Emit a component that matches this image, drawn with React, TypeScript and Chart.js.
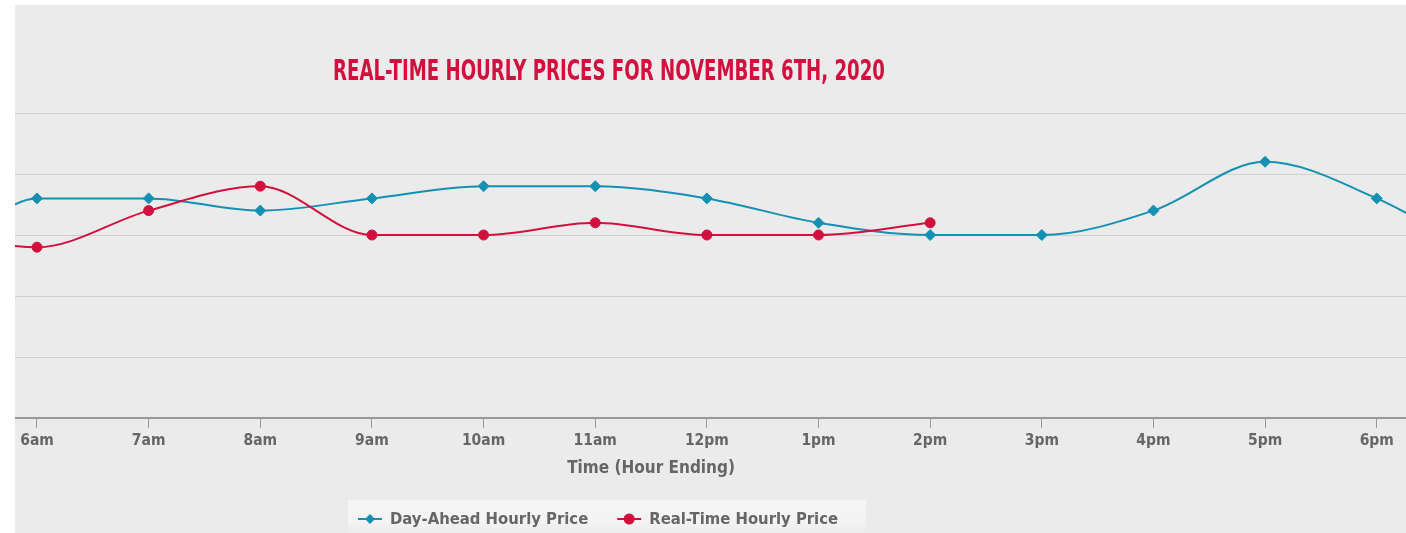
import { useEffect, useRef } from 'react';
import { Chart, registerables } from 'chart.js';

Chart.register(...registerables);

// ---- data ----
const dayAheadHours = [5, 6, 7, 8, 9, 10, 11, 12, 13, 14, 15, 16, 17, 18, 19];
const dayAheadPrices = [22, 36, 36, 34, 36, 38, 38, 36, 32, 30, 30, 34, 42, 36, 26];
const realTimeHours = [5, 6, 7, 8, 9, 10, 11, 12, 13, 14];
const realTimePrices = [31, 28, 34, 38, 30, 30, 32, 30, 30, 32];
const tickHours = [6, 7, 8, 9, 10, 11, 12, 13, 14, 15, 16, 17, 18];
const tickLabels = ['6am', '7am', '8am', '9am', '10am', '11am', '12pm', '1pm', '2pm', '3pm', '4pm', '5pm', '6pm'];
const seriesNames = ['Day-Ahead Hourly Price', 'Real-Time Hourly Price'];
const chartTitle = 'REAL-TIME HOURLY PRICES FOR NOVEMBER 6TH, 2020';
const xAxisTitle = 'Time (Hour Ending)';

const BLUE = '#1490b2';
const RED = '#d2103e';
const TEXT = '#666666';
const COND = '"DejaVu Sans Condensed", "DejaVu Sans", sans-serif';

const overlayPlugin = {
  id: 'overlay',
  afterDraw(chart: any) {
    const { ctx } = chart;
    const xs = chart.scales.x;

    // Title
    ctx.save();
    ctx.font = 'bold 28px "Liberation Sans Narrow", "DejaVu Sans Condensed", sans-serif';
    const tw = ctx.measureText(chartTitle).width;
    ctx.translate(594, 75);
    ctx.scale(552 / tw, 1);
    ctx.fillStyle = RED;
    ctx.textAlign = 'center';
    ctx.textBaseline = 'alphabetic';
    ctx.fillText(chartTitle, 0, 0);
    ctx.restore();

    // X axis title
    ctx.save();
    ctx.font = 'bold 17px ' + COND;
    ctx.fillStyle = TEXT;
    ctx.textAlign = 'center';
    ctx.textBaseline = 'alphabetic';
    ctx.fillText(xAxisTitle, xs.getPixelForValue(11.5), 468);
    ctx.restore();

    // Legend box
    ctx.save();
    const bx = 333, by = 495, bw = 518, bh = 40;
    const g = ctx.createLinearGradient(0, by, 0, by + bh);
    g.addColorStop(0, '#f6f6f6');
    g.addColorStop(0.55, '#f3f3f3');
    g.addColorStop(1, '#e6e6e6');
    ctx.fillStyle = g;
    ctx.fillRect(bx, by, bw, bh);
    ctx.font = 'bold 16.5px ' + COND;
    ctx.textBaseline = 'middle';
    ctx.textAlign = 'left';
    const ly = 514;
    let x = 343;
    chart.data.datasets.forEach((ds: any, i: number) => {
      const color = ds.borderColor;
      ctx.strokeStyle = color;
      ctx.fillStyle = color;
      ctx.lineWidth = 2;
      ctx.beginPath();
      ctx.moveTo(x, ly);
      ctx.lineTo(x + 24, ly);
      ctx.stroke();
      const cx = x + 12;
      ctx.beginPath();
      if (i === 0) {
        ctx.moveTo(cx, ly - 5);
        ctx.lineTo(cx + 5, ly);
        ctx.lineTo(cx, ly + 5);
        ctx.lineTo(cx - 5, ly);
        ctx.closePath();
      } else {
        ctx.arc(cx, ly, 5.5, 0, Math.PI * 2);
      }
      ctx.fill();
      ctx.fillStyle = TEXT;
      ctx.fillText(ds.label, x + 32, ly + 1);
      x = x + 32 + ctx.measureText(ds.label).width + 29;
    });
    ctx.restore();
  },
};

export default function App() {
  const ref = useRef<HTMLCanvasElement>(null);
  useEffect(() => {
    if (!ref.current) return;
    const chart = new Chart(ref.current, {
      type: 'line',
      data: {
        datasets: [
          {
            label: seriesNames[0],
            data: dayAheadHours.map((h, i) => ({ x: h, y: dayAheadPrices[i] })),
            borderColor: BLUE,
            backgroundColor: BLUE,
            borderWidth: 2,
            pointStyle: 'rectRot',
            pointRadius: 5.5,
            pointBorderWidth: 1,
            cubicInterpolationMode: 'monotone',
            order: 1,
          },
          {
            label: seriesNames[1],
            data: realTimeHours.map((h, i) => ({ x: h, y: realTimePrices[i] })),
            borderColor: RED,
            backgroundColor: RED,
            borderWidth: 2,
            pointStyle: 'circle',
            pointRadius: 5,
            pointBorderWidth: 1,
            cubicInterpolationMode: 'monotone',
            order: 0,
          },
        ],
      },
      options: {
        responsive: false,
        animation: false,
        devicePixelRatio: 1,
        layout: { autoPadding: false, padding: { top: 108, left: 0, right: 0, bottom: 0 } },
        plugins: {
          legend: { display: false },
          title: { display: false },
          tooltip: { enabled: false },
        },
        scales: {
          x: {
            type: 'linear',
            min: 5.803,
            max: 18.262,
            afterBuildTicks: (scale: any) => {
              scale.ticks = tickHours.map((v) => ({ value: v }));
            },
            afterFit: (scale: any) => {
              scale.height = 115;
              scale.paddingLeft = 0;
              scale.paddingRight = 0;
            },
            ticks: {
              autoSkip: false,
              maxRotation: 0,
              padding: 4,
              color: TEXT,
              font: { family: COND, size: 15.5, weight: 'bold' },
              callback: (v: any) => {
                const idx = tickHours.indexOf(Number(v));
                return idx >= 0 ? tickLabels[idx] : '';
              },
            },
            grid: {
              drawOnChartArea: false,
              drawTicks: true,
              tickLength: 10,
              color: '#999999',
              lineWidth: 1,
            },
            border: { display: true, color: '#999999', width: 2 },
          },
          y: {
            min: 0,
            max: 50,
            afterFit: (scale: any) => {
              scale.width = 0;
              scale.paddingTop = 0;
              scale.paddingBottom = 0;
            },
            ticks: { display: false, stepSize: 10 },
            grid: { color: '#d0d0d0', lineWidth: 1, drawTicks: false },
            border: { display: false },
          },
        },
      },
      plugins: [overlayPlugin],
    } as any);
    return () => chart.destroy();
  }, []);

  return (
    <div
      style={{
        position: 'absolute',
        left: 15,
        top: 5,
        width: 1391,
        height: 528,
        background: '#ebebeb',
        overflow: 'hidden',
      }}
    >
      <canvas ref={ref} width={1391} height={528} style={{ display: 'block', width: 1391, height: 528 }} />
    </div>
  );
}
